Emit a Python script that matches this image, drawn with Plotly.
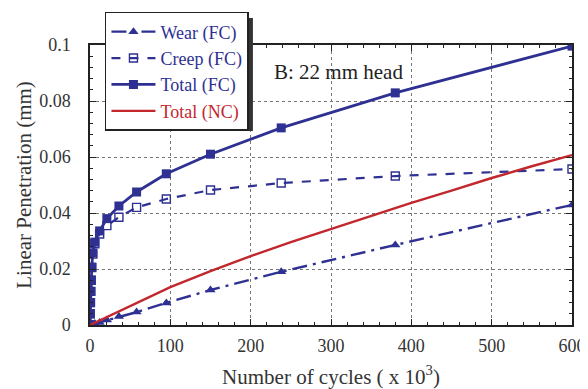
import plotly.graph_objects as go

cycles_fc = [0, 0.3, 0.6, 1, 1.5, 2.2, 3.5, 6, 12, 21, 36, 58, 95, 150, 238, 380, 600]
total_fc = [0, 0.004, 0.008, 0.012, 0.016, 0.0207, 0.0257, 0.0296, 0.0336, 0.038, 0.0425, 0.0475, 0.054, 0.061, 0.0704, 0.0829, 0.0996]
creep_fc = [0, 0.004, 0.008, 0.012, 0.016, 0.0205, 0.0253, 0.029, 0.0325, 0.0355, 0.0385, 0.042, 0.045, 0.0482, 0.0507, 0.0532, 0.0557]
wear_fc = [0, 0, 0, 0.0001, 0.0001, 0.0002, 0.0003, 0.0005, 0.0009, 0.0018, 0.003, 0.0046, 0.0079, 0.0125, 0.019, 0.0286, 0.0429]

cycles_nc = [0, 50, 100, 150, 200, 250, 300, 350, 400, 450, 500, 550, 600]
total_nc = [0, 0.0068, 0.0135, 0.0192, 0.0246, 0.0296, 0.0343, 0.039, 0.0436, 0.048, 0.0525, 0.0567, 0.0607]

x_ticks = [0, 100, 200, 300, 400, 500, 600]
y_ticks = [0, 0.02, 0.04, 0.06, 0.08, 0.1]
y_tick_labels = ["0", "0.02", "0.04", "0.06", "0.08", "0.1"]

BLUE = "#2e3192"
RED = "#c1272d"
FONT = "Times New Roman"

def lbl(txt, col):
    return f"<span style='color:{col}'>{txt}</span>"

fig = go.Figure()
fig.add_trace(go.Scatter(x=cycles_fc, y=wear_fc, mode="lines+markers", name=lbl("Wear (FC)", BLUE),
                         line=dict(color=BLUE, width=2.4, dash="longdashdot"),
                         marker=dict(symbol="triangle-up", size=9, color=BLUE)))
fig.add_trace(go.Scatter(x=cycles_fc, y=creep_fc, mode="lines+markers", name=lbl("Creep (FC)", BLUE),
                         line=dict(color=BLUE, width=2.2, dash="dash"),
                         marker=dict(symbol="square-open", size=8, color=BLUE, line=dict(width=1.4, color=BLUE))))
fig.add_trace(go.Scatter(x=cycles_fc, y=total_fc, mode="lines+markers", name=lbl("Total (FC)", BLUE),
                         line=dict(color=BLUE, width=2.8),
                         marker=dict(symbol="square", size=9, color=BLUE)))
fig.add_trace(go.Scatter(x=cycles_nc, y=total_nc, mode="lines", name=lbl("Total (NC)", RED),
                         line=dict(color=RED, width=2.4)))

axis_common = dict(showline=True, linecolor="#222", linewidth=1.5, mirror="ticks",
                   ticks="inside", ticklen=6, tickcolor="#222", tickwidth=1,
                   showgrid=True, gridcolor="#777", griddash="dot", gridwidth=1,
                   zeroline=False, tickfont=dict(family=FONT, size=18, color="#333"))

fig.update_xaxes(range=[0, 600], tickvals=x_ticks,
                 minor=dict(dtick=20, ticks="inside", ticklen=3, tickcolor="#222", showgrid=False),
                 ticklabelstandoff=4,
                 title=dict(text="Number of cycles ( x 10<sup>3</sup>)", font=dict(family=FONT, size=21, color="#333"), standoff=15),
                 **axis_common)
fig.update_yaxes(range=[0, 0.1], tickvals=y_ticks, ticktext=y_tick_labels,
                 minor=dict(dtick=0.004, ticks="inside", ticklen=3, tickcolor="#222", showgrid=False),
                 ticklabelstandoff=14,
                 title=dict(text="Linear Penetration (mm)", font=dict(family=FONT, size=21, color="#333"), standoff=2),
                 **axis_common)

fig.add_annotation(x=227, y=0.0905, xref="x", yref="y", text="B: 22 mm head", showarrow=False,
                   xanchor="left", yanchor="middle", font=dict(family=FONT, size=21, color="#222"))

# legend drop shadow (offset box behind the legend)
fig.add_shape(type="rect", xref="paper", yref="paper", x0=0.037, x1=0.338, y0=0.693, y1=1.096,
              fillcolor="#333", line=dict(width=0), layer="above")

# page body has an 8px margin, so the figure is sized/offset to keep the plot area in place
fig.update_layout(
    width=580, height=381,
    margin=dict(l=82, r=16, t=37, b=64, autoexpand=False),
    paper_bgcolor="white", plot_bgcolor="white",
    font=dict(family=FONT, size=18, color="#333"),
    showlegend=True,
    legend=dict(x=0.031, y=1.118, xanchor="left", yanchor="top",
                bgcolor="white", bordercolor="#222", borderwidth=1.5,
                font=dict(family=FONT, size=18),
                itemwidth=44, entrywidth=100),
)

fig.write_html("out.html")
